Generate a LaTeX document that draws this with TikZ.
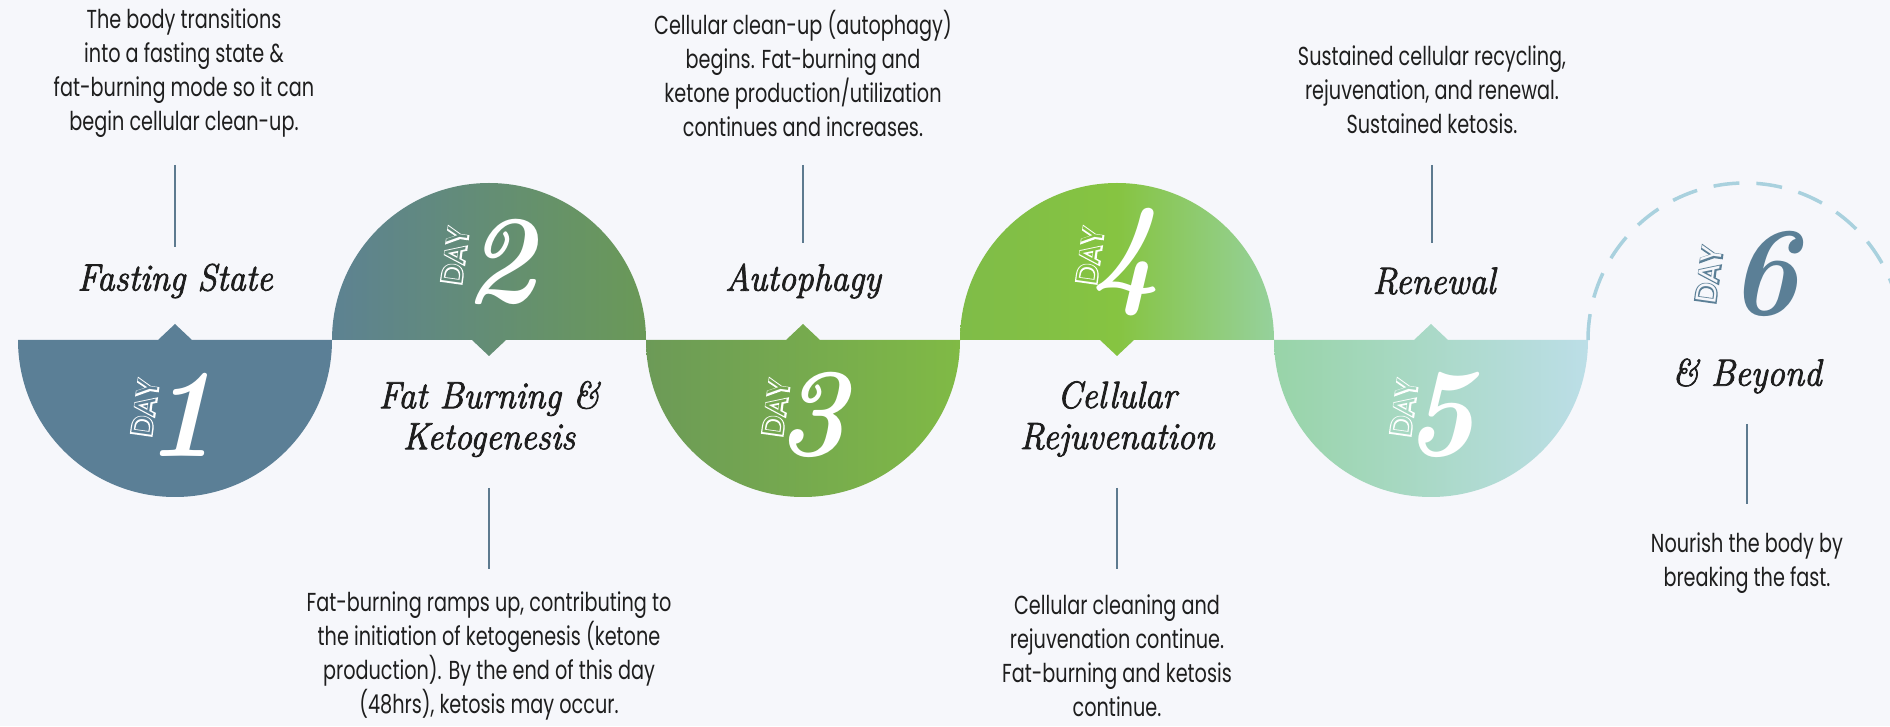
\documentclass[tikz,border=0pt]{standalone}
\usepackage{fontspec}
\newfontfamily\descfont[FakeStretch=0.74]{Poppins}
\newfontfamily\dayfont{Poppins}
\newfontfamily\dayfontbold[FakeBold=9]{Poppins}
\newfontfamily\headfont[FakeBold=2,FakeStretch=0.92]{lmroman12-italic.otf}
\newfontfamily\digitfont[FakeStretch=0.95]{lmroman10-bolditalic.otf}
\definecolor{bg}{HTML}{F6F7FB}
\definecolor{ink}{HTML}{1E1E1E}
\definecolor{slate}{HTML}{5B7F96}
\definecolor{linec}{HTML}{5D7A8F}
\definecolor{dtwoa}{HTML}{5D8292}
\definecolor{dtwob}{HTML}{6A9957}
\definecolor{dthreea}{HTML}{6C9A57}
\definecolor{dthreeb}{HTML}{80BA45}
\definecolor{dfoura}{HTML}{7FBC48}
\definecolor{dfourm}{HTML}{86C441}
\definecolor{dfourb}{HTML}{96D19C}
\definecolor{dfivea}{HTML}{98D4A8}
\definecolor{dfiveb}{HTML}{BCDEE7}
\definecolor{dashc}{HTML}{A9D1DE}
\definecolor{intwo}{HTML}{628B7B}
\definecolor{inthree}{HTML}{74A74F}
\definecolor{infour}{HTML}{85C342}
\definecolor{infive}{HTML}{A7D8C2}
\newcommand{\outl}[2]{\rlap{\dayfontbold\textcolor{#1}{DAY}}\textcolor{#2}{DAY}}
\begin{document}
\begin{tikzpicture}[x=1pt,y=1pt,
  desc/.style={font=\descfont\fontsize{26}{34}\selectfont, text=ink, align=center, inner sep=0pt},
  head/.style={font=\headfont\fontsize{38}{41}\selectfont, text=ink, align=center, inner sep=0pt},
  digit/.style={font=\digitfont\fontsize{126}{126}\selectfont, inner sep=0pt},
  daylbl/.style={font=\dayfont\fontsize{29}{29}\selectfont, inner sep=0pt, rotate=82},
  conn/.style={draw=linec, line width=1.6pt}]
\useasboundingbox (0,0) rectangle (1890,726);
\fill[bg] (0,0) rectangle (1890,726);
% day 1
\fill[slate] (18,386) -- (158,386) -- (175,402) -- (192,386) -- (332,386) arc[start angle=0,end angle=-180,radius=157] -- cycle;
% day 2
\shade[left color=dtwoa, right color=dtwob] (332,386) -- (472,386) -- (489,370) -- (506,386) -- (646,386) arc[start angle=0,end angle=180,radius=157] -- cycle;
% day 3
\shade[left color=dthreea, right color=dthreeb] (646,386) -- (786,386) -- (803,402) -- (820,386) -- (960,386) arc[start angle=0,end angle=-180,radius=157] -- cycle;
% day 4
\shade[left color=dfoura, right color=dfourb, middle color=dfourm] (960,386) -- (1100,386) -- (1117,370) -- (1134,386) -- (1274,386) arc[start angle=0,end angle=180,radius=157] -- cycle;
% day 5
\shade[left color=dfivea, right color=dfiveb] (1274,386) -- (1414,386) -- (1431,402) -- (1448,386) -- (1588,386) arc[start angle=0,end angle=-180,radius=157] -- cycle;
% day 6 dashed arc
\draw[dashc, line width=3.5pt, dash pattern=on 26pt off 17pt] (1588,386) arc[start angle=180,end angle=0,radius=157];

% digits
\node[digit, text=white] (n1) at (181,311) {1};
\node[digit, text=white] (n2) at (500,464) {2};
\node[digit, text=white] (n3) at (812,311) {3};
\node[digit, text=white] (n4) at (1126,464) {4};
\node[digit, text=white] (n5) at (1440,311) {5};
\node[digit, text=slate] (n6) at (1764,452) {6};
\node[daylbl] (y1) at (145,318) {\outl{white}{slate}};
\node[daylbl] (y2) at (455,470) {\outl{white}{intwo}};
\node[daylbl] (y3) at (776,318) {\outl{white}{inthree}};
\node[daylbl] (y4) at (1090,470) {\outl{white}{infour}};
\node[daylbl] (y5) at (1404,318) {\outl{white}{infive}};
\node[daylbl] (y6) at (1709,451) {\outl{slate}{bg}};

% headings
\node[head] (h1) at (175,445) {Fasting State};
\node[head] (h2) at (489,307) {Fat Burning \&\\Ketogenesis};
\node[head] (h3) at (803,445) {Autophagy};
\node[head] (h4) at (1117,307) {Cellular\\Rejuvenation};
\node[head] (h5) at (1434,445) {Renewal};
\node[head] (h6) at (1747,350) {\& Beyond};

% descriptions
\node[desc] (t1) at (184,653) {The body transitions\\into a fasting state \&\\fat-burning mode so it can\\begin cellular clean-up.};
\node[desc] (t2) at (489,70) {Fat-burning ramps up, contributing to\\the initiation of ketogenesis (ketone\\production). By the end of this day\\(48hrs), ketosis may occur.};
\node[desc] (t3) at (803,653) {Cellular clean-up (autophagy)\\begins. Fat-burning and\\ketone production/utilization\\continues and increases.};
\node[desc] (t4) at (1117,70) {Cellular cleaning and\\rejuvenation continue.\\Fat-burning and ketosis\\continue.};
\node[desc] (t5) at (1432,636) {Sustained cellular recycling,\\rejuvenation, and renewal.\\Sustained ketosis.};
\node[desc] (t6) at (1747,163) {Nourish the body by\\breaking the fast.};

% connectors
\coordinate (a1) at (175,561); \coordinate (b1) at (175,479);
\coordinate (a2) at (489,238); \coordinate (b2) at (489,157);
\coordinate (a3) at (803,561); \coordinate (b3) at (803,483);
\coordinate (a4) at (1117,238); \coordinate (b4) at (1117,157);
\coordinate (a5) at (1432,561); \coordinate (b5) at (1432,483);
\coordinate (a6) at (1747,302); \coordinate (b6) at (1747,222);
\draw[conn] (a1) -- (b1);
\draw[conn] (a2) -- (b2);
\draw[conn] (a3) -- (b3);
\draw[conn] (a4) -- (b4);
\draw[conn] (a5) -- (b5);
\draw[conn] (a6) -- (b6);
\end{tikzpicture}
\end{document}
